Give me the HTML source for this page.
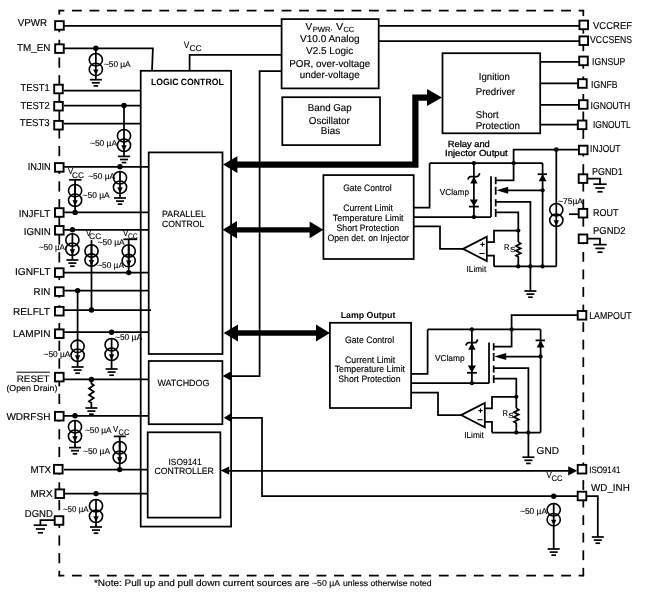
<!DOCTYPE html>
<html><head><meta charset="utf-8"><style>
html,body{margin:0;padding:0;background:#fff;}
svg{display:block;will-change:transform;}
text{font-family:"Liberation Sans",sans-serif;fill:#000;stroke:#000;stroke-width:0.15px;text-rendering:geometricPrecision;}
</style></head><body>
<svg width="650" height="599" viewBox="0 0 650 599">
<g fill="none" stroke="#000" stroke-width="1.75" stroke-linecap="butt">
<line x1="59.3" y1="10.6" x2="64.33" y2="10.6" stroke-width="1.75"/>
<line x1="72" y1="10.6" x2="81.8" y2="10.6" stroke-width="1.75"/>
<line x1="89.47" y1="10.6" x2="99.27" y2="10.6" stroke-width="1.75"/>
<line x1="106.94" y1="10.6" x2="116.74" y2="10.6" stroke-width="1.75"/>
<line x1="124.41" y1="10.6" x2="134.21" y2="10.6" stroke-width="1.75"/>
<line x1="141.88" y1="10.6" x2="151.68" y2="10.6" stroke-width="1.75"/>
<line x1="159.35" y1="10.6" x2="169.15" y2="10.6" stroke-width="1.75"/>
<line x1="176.82" y1="10.6" x2="186.62" y2="10.6" stroke-width="1.75"/>
<line x1="194.29" y1="10.6" x2="204.09" y2="10.6" stroke-width="1.75"/>
<line x1="211.76" y1="10.6" x2="221.56" y2="10.6" stroke-width="1.75"/>
<line x1="229.23" y1="10.6" x2="239.03" y2="10.6" stroke-width="1.75"/>
<line x1="246.7" y1="10.6" x2="256.5" y2="10.6" stroke-width="1.75"/>
<line x1="264.17" y1="10.6" x2="273.97" y2="10.6" stroke-width="1.75"/>
<line x1="281.64" y1="10.6" x2="291.44" y2="10.6" stroke-width="1.75"/>
<line x1="299.11" y1="10.6" x2="308.91" y2="10.6" stroke-width="1.75"/>
<line x1="316.58" y1="10.6" x2="326.38" y2="10.6" stroke-width="1.75"/>
<line x1="334.05" y1="10.6" x2="343.85" y2="10.6" stroke-width="1.75"/>
<line x1="351.52" y1="10.6" x2="361.32" y2="10.6" stroke-width="1.75"/>
<line x1="368.99" y1="10.6" x2="378.79" y2="10.6" stroke-width="1.75"/>
<line x1="386.46" y1="10.6" x2="396.26" y2="10.6" stroke-width="1.75"/>
<line x1="403.93" y1="10.6" x2="413.73" y2="10.6" stroke-width="1.75"/>
<line x1="421.4" y1="10.6" x2="431.2" y2="10.6" stroke-width="1.75"/>
<line x1="438.87" y1="10.6" x2="448.67" y2="10.6" stroke-width="1.75"/>
<line x1="456.34" y1="10.6" x2="466.14" y2="10.6" stroke-width="1.75"/>
<line x1="473.81" y1="10.6" x2="483.61" y2="10.6" stroke-width="1.75"/>
<line x1="491.28" y1="10.6" x2="501.08" y2="10.6" stroke-width="1.75"/>
<line x1="508.75" y1="10.6" x2="518.55" y2="10.6" stroke-width="1.75"/>
<line x1="526.22" y1="10.6" x2="536.02" y2="10.6" stroke-width="1.75"/>
<line x1="543.69" y1="10.6" x2="553.49" y2="10.6" stroke-width="1.75"/>
<line x1="561.16" y1="10.6" x2="570.96" y2="10.6" stroke-width="1.75"/>
<line x1="578.63" y1="10.6" x2="583.3" y2="10.6" stroke-width="1.75"/>
<line x1="59.3" y1="575.6" x2="64.33" y2="575.6" stroke-width="1.75"/>
<line x1="72" y1="575.6" x2="81.8" y2="575.6" stroke-width="1.75"/>
<line x1="89.47" y1="575.6" x2="99.27" y2="575.6" stroke-width="1.75"/>
<line x1="106.94" y1="575.6" x2="116.74" y2="575.6" stroke-width="1.75"/>
<line x1="124.41" y1="575.6" x2="134.21" y2="575.6" stroke-width="1.75"/>
<line x1="141.88" y1="575.6" x2="151.68" y2="575.6" stroke-width="1.75"/>
<line x1="159.35" y1="575.6" x2="169.15" y2="575.6" stroke-width="1.75"/>
<line x1="176.82" y1="575.6" x2="186.62" y2="575.6" stroke-width="1.75"/>
<line x1="194.29" y1="575.6" x2="204.09" y2="575.6" stroke-width="1.75"/>
<line x1="211.76" y1="575.6" x2="221.56" y2="575.6" stroke-width="1.75"/>
<line x1="229.23" y1="575.6" x2="239.03" y2="575.6" stroke-width="1.75"/>
<line x1="246.7" y1="575.6" x2="256.5" y2="575.6" stroke-width="1.75"/>
<line x1="264.17" y1="575.6" x2="273.97" y2="575.6" stroke-width="1.75"/>
<line x1="281.64" y1="575.6" x2="291.44" y2="575.6" stroke-width="1.75"/>
<line x1="299.11" y1="575.6" x2="308.91" y2="575.6" stroke-width="1.75"/>
<line x1="316.58" y1="575.6" x2="326.38" y2="575.6" stroke-width="1.75"/>
<line x1="334.05" y1="575.6" x2="343.85" y2="575.6" stroke-width="1.75"/>
<line x1="351.52" y1="575.6" x2="361.32" y2="575.6" stroke-width="1.75"/>
<line x1="368.99" y1="575.6" x2="378.79" y2="575.6" stroke-width="1.75"/>
<line x1="386.46" y1="575.6" x2="396.26" y2="575.6" stroke-width="1.75"/>
<line x1="403.93" y1="575.6" x2="413.73" y2="575.6" stroke-width="1.75"/>
<line x1="421.4" y1="575.6" x2="431.2" y2="575.6" stroke-width="1.75"/>
<line x1="438.87" y1="575.6" x2="448.67" y2="575.6" stroke-width="1.75"/>
<line x1="456.34" y1="575.6" x2="466.14" y2="575.6" stroke-width="1.75"/>
<line x1="473.81" y1="575.6" x2="483.61" y2="575.6" stroke-width="1.75"/>
<line x1="491.28" y1="575.6" x2="501.08" y2="575.6" stroke-width="1.75"/>
<line x1="508.75" y1="575.6" x2="518.55" y2="575.6" stroke-width="1.75"/>
<line x1="526.22" y1="575.6" x2="536.02" y2="575.6" stroke-width="1.75"/>
<line x1="543.69" y1="575.6" x2="553.49" y2="575.6" stroke-width="1.75"/>
<line x1="561.16" y1="575.6" x2="570.96" y2="575.6" stroke-width="1.75"/>
<line x1="578.63" y1="575.6" x2="583.3" y2="575.6" stroke-width="1.75"/>
<line x1="59.3" y1="10.6" x2="59.3" y2="14.6" stroke-width="1.75"/>
<line x1="59.3" y1="22.1" x2="59.3" y2="32.3" stroke-width="1.75"/>
<line x1="59.3" y1="39.8" x2="59.3" y2="50" stroke-width="1.75"/>
<line x1="59.3" y1="57.5" x2="59.3" y2="67.7" stroke-width="1.75"/>
<line x1="59.3" y1="75.2" x2="59.3" y2="85.4" stroke-width="1.75"/>
<line x1="59.3" y1="92.9" x2="59.3" y2="103.1" stroke-width="1.75"/>
<line x1="59.3" y1="110.6" x2="59.3" y2="120.8" stroke-width="1.75"/>
<line x1="59.3" y1="128.3" x2="59.3" y2="138.5" stroke-width="1.75"/>
<line x1="59.3" y1="146" x2="59.3" y2="156.2" stroke-width="1.75"/>
<line x1="59.3" y1="163.7" x2="59.3" y2="173.9" stroke-width="1.75"/>
<line x1="59.3" y1="181.4" x2="59.3" y2="191.6" stroke-width="1.75"/>
<line x1="59.3" y1="199.1" x2="59.3" y2="209.3" stroke-width="1.75"/>
<line x1="59.3" y1="216.8" x2="59.3" y2="227" stroke-width="1.75"/>
<line x1="59.3" y1="234.5" x2="59.3" y2="244.7" stroke-width="1.75"/>
<line x1="59.3" y1="252.2" x2="59.3" y2="262.4" stroke-width="1.75"/>
<line x1="59.3" y1="269.9" x2="59.3" y2="280.1" stroke-width="1.75"/>
<line x1="59.3" y1="287.6" x2="59.3" y2="297.8" stroke-width="1.75"/>
<line x1="59.3" y1="305.3" x2="59.3" y2="315.5" stroke-width="1.75"/>
<line x1="59.3" y1="323" x2="59.3" y2="333.2" stroke-width="1.75"/>
<line x1="59.3" y1="340.7" x2="59.3" y2="350.9" stroke-width="1.75"/>
<line x1="59.3" y1="358.4" x2="59.3" y2="368.6" stroke-width="1.75"/>
<line x1="59.3" y1="376.1" x2="59.3" y2="386.3" stroke-width="1.75"/>
<line x1="59.3" y1="393.8" x2="59.3" y2="404" stroke-width="1.75"/>
<line x1="59.3" y1="411.5" x2="59.3" y2="421.7" stroke-width="1.75"/>
<line x1="59.3" y1="429.2" x2="59.3" y2="439.4" stroke-width="1.75"/>
<line x1="59.3" y1="446.9" x2="59.3" y2="457.1" stroke-width="1.75"/>
<line x1="59.3" y1="464.6" x2="59.3" y2="474.8" stroke-width="1.75"/>
<line x1="59.3" y1="482.3" x2="59.3" y2="492.5" stroke-width="1.75"/>
<line x1="59.3" y1="500" x2="59.3" y2="510.2" stroke-width="1.75"/>
<line x1="59.3" y1="517.7" x2="59.3" y2="527.9" stroke-width="1.75"/>
<line x1="59.3" y1="535.4" x2="59.3" y2="545.6" stroke-width="1.75"/>
<line x1="59.3" y1="553.1" x2="59.3" y2="563.3" stroke-width="1.75"/>
<line x1="59.3" y1="570.8" x2="59.3" y2="575.6" stroke-width="1.75"/>
<line x1="583.3" y1="10.6" x2="583.3" y2="16.05" stroke-width="1.75"/>
<line x1="583.3" y1="23.8" x2="583.3" y2="33.6" stroke-width="1.75"/>
<line x1="583.3" y1="41.35" x2="583.3" y2="51.15" stroke-width="1.75"/>
<line x1="583.3" y1="58.9" x2="583.3" y2="68.7" stroke-width="1.75"/>
<line x1="583.3" y1="76.45" x2="583.3" y2="86.25" stroke-width="1.75"/>
<line x1="583.3" y1="94" x2="583.3" y2="103.8" stroke-width="1.75"/>
<line x1="583.3" y1="111.55" x2="583.3" y2="121.35" stroke-width="1.75"/>
<line x1="583.3" y1="129.1" x2="583.3" y2="138.9" stroke-width="1.75"/>
<line x1="583.3" y1="146.65" x2="583.3" y2="156.45" stroke-width="1.75"/>
<line x1="583.3" y1="164.2" x2="583.3" y2="174" stroke-width="1.75"/>
<line x1="583.3" y1="181.75" x2="583.3" y2="191.55" stroke-width="1.75"/>
<line x1="583.3" y1="199.3" x2="583.3" y2="209.1" stroke-width="1.75"/>
<line x1="583.3" y1="216.85" x2="583.3" y2="226.65" stroke-width="1.75"/>
<line x1="583.3" y1="234.4" x2="583.3" y2="244.2" stroke-width="1.75"/>
<line x1="583.3" y1="251.95" x2="583.3" y2="261.75" stroke-width="1.75"/>
<line x1="583.3" y1="269.5" x2="583.3" y2="279.3" stroke-width="1.75"/>
<line x1="583.3" y1="287.05" x2="583.3" y2="296.85" stroke-width="1.75"/>
<line x1="583.3" y1="304.6" x2="583.3" y2="314.4" stroke-width="1.75"/>
<line x1="583.3" y1="322.15" x2="583.3" y2="331.95" stroke-width="1.75"/>
<line x1="583.3" y1="339.7" x2="583.3" y2="349.5" stroke-width="1.75"/>
<line x1="583.3" y1="357.25" x2="583.3" y2="367.05" stroke-width="1.75"/>
<line x1="583.3" y1="374.8" x2="583.3" y2="384.6" stroke-width="1.75"/>
<line x1="583.3" y1="392.35" x2="583.3" y2="402.15" stroke-width="1.75"/>
<line x1="583.3" y1="409.9" x2="583.3" y2="419.7" stroke-width="1.75"/>
<line x1="583.3" y1="427.45" x2="583.3" y2="437.25" stroke-width="1.75"/>
<line x1="583.3" y1="445" x2="583.3" y2="454.8" stroke-width="1.75"/>
<line x1="583.3" y1="462.55" x2="583.3" y2="472.35" stroke-width="1.75"/>
<line x1="583.3" y1="480.1" x2="583.3" y2="489.9" stroke-width="1.75"/>
<line x1="583.3" y1="497.65" x2="583.3" y2="507.45" stroke-width="1.75"/>
<line x1="583.3" y1="515.2" x2="583.3" y2="525" stroke-width="1.75"/>
<line x1="583.3" y1="532.75" x2="583.3" y2="542.55" stroke-width="1.75"/>
<line x1="583.3" y1="550.3" x2="583.3" y2="560.1" stroke-width="1.75"/>
<line x1="583.3" y1="567.85" x2="583.3" y2="575.6" stroke-width="1.75"/>
<rect x="58.42" y="9.72" width="1.75" height="1.75" fill="#000" stroke="none"/>
<rect x="582.42" y="9.72" width="1.75" height="1.75" fill="#000" stroke="none"/>
<rect x="58.42" y="574.73" width="1.75" height="1.75" fill="#000" stroke="none"/>
<rect x="582.42" y="574.73" width="1.75" height="1.75" fill="#000" stroke="none"/>
<rect x="140.7" y="70.8" width="90.4" height="455.8"/>
<rect x="148.7" y="152.4" width="73.8" height="201.6"/>
<rect x="148.7" y="361" width="73.7" height="63.2"/>
<rect x="147.7" y="432.3" width="72.7" height="85.3"/>
<rect x="281.6" y="19.1" width="97.1" height="69.3"/>
<rect x="282.3" y="97.2" width="97.7" height="47.9"/>
<rect x="442.5" y="53.2" width="97.7" height="80.1"/>
<rect x="323.4" y="175.1" width="90.3" height="83.9"/>
<rect x="329.9" y="322.8" width="81.2" height="85.2"/>
<line x1="64" y1="25.8" x2="281.6" y2="25.8"/>
<line x1="378.7" y1="25.8" x2="579" y2="25.8"/>
<line x1="378.7" y1="41" x2="579" y2="41"/>
<polyline points="64,48.3 152.9,48.3 152,70.8"/>
<polyline points="189.6,70.8 189.6,54.9 281.6,54.9"/>
<polyline points="281.6,71.1 259.6,71.1 259.6,376.2 231,376.2"/>
<polygon points="222.5,376.1 231.6,371.1 231.6,381.1" fill="#000" stroke="none"/>
<line x1="540.2" y1="61.8" x2="579" y2="61.8"/>
<line x1="540.2" y1="83.4" x2="579" y2="83.4"/>
<line x1="540.2" y1="104.8" x2="579" y2="104.8"/>
<line x1="540.2" y1="124.6" x2="579" y2="124.6"/>
<line x1="64" y1="90.5" x2="140.7" y2="90.5"/>
<line x1="64" y1="105.5" x2="140.7" y2="105.5"/>
<line x1="64" y1="123.5" x2="140.7" y2="123.5"/>
<line x1="64" y1="166.8" x2="148.7" y2="166.8"/>
<line x1="64" y1="212.4" x2="148.7" y2="212.4"/>
<line x1="64" y1="229.8" x2="148.7" y2="229.8"/>
<line x1="64" y1="272.6" x2="148.7" y2="272.6"/>
<line x1="64" y1="290.6" x2="148.7" y2="290.6"/>
<line x1="64" y1="310" x2="151" y2="310"/>
<line x1="64" y1="332.2" x2="148.7" y2="332.2"/>
<line x1="64" y1="379.4" x2="148.7" y2="379.4"/>
<line x1="64" y1="415.8" x2="148.7" y2="415.8"/>
<line x1="64" y1="469.6" x2="147.7" y2="469.6"/>
<line x1="64" y1="493.6" x2="147.7" y2="493.6"/>
<circle cx="95.85" cy="48.3" r="2.7" fill="#000" stroke="none"/>
<line x1="95.85" y1="48.3" x2="95.85" y2="53"/>
<ellipse cx="95.85" cy="59.75" rx="6.6" ry="6.2" stroke-width="1.6"/>
<ellipse cx="95.85" cy="69.4" rx="6.6" ry="6.2" stroke-width="1.6"/>
<line x1="95.85" y1="53.55" x2="95.85" y2="75.6"/>
<polygon points="93.15,69.4 98.55,69.4 95.85,75.1" fill="#000" stroke="none"/>
<line x1="95.85" y1="75" x2="95.85" y2="79.7"/>
<line x1="89.85" y1="79.7" x2="101.85" y2="79.7" stroke-width="1.7"/>
<line x1="91.85" y1="82.8" x2="99.85" y2="82.8" stroke-width="1.7"/>
<line x1="93.55" y1="85.9" x2="98.15" y2="85.9" stroke-width="1.7"/>
<circle cx="124" cy="105.5" r="2.7" fill="#000" stroke="none"/>
<line x1="124" y1="105.5" x2="124" y2="130"/>
<ellipse cx="124" cy="135.75" rx="6.6" ry="6.2" stroke-width="1.6"/>
<ellipse cx="124" cy="145.25" rx="6.6" ry="6.2" stroke-width="1.6"/>
<line x1="124" y1="129.55" x2="124" y2="151.45"/>
<polygon points="121.3,145.25 126.7,145.25 124,150.95" fill="#000" stroke="none"/>
<line x1="124" y1="151" x2="124" y2="156.4"/>
<line x1="118" y1="156.4" x2="130" y2="156.4" stroke-width="1.7"/>
<line x1="120" y1="159.5" x2="128" y2="159.5" stroke-width="1.7"/>
<line x1="121.7" y1="162.6" x2="126.3" y2="162.6" stroke-width="1.7"/>
<circle cx="120" cy="166.8" r="2.7" fill="#000" stroke="none"/>
<ellipse cx="120" cy="177.75" rx="6.6" ry="6.2" stroke-width="1.6"/>
<ellipse cx="120" cy="187.25" rx="6.6" ry="6.2" stroke-width="1.6"/>
<line x1="120" y1="171.55" x2="120" y2="193.45"/>
<polygon points="117.3,187.25 122.7,187.25 120,192.95" fill="#000" stroke="none"/>
<line x1="120" y1="193" x2="120" y2="198"/>
<line x1="114" y1="198" x2="126" y2="198" stroke-width="1.7"/>
<line x1="116" y1="201.1" x2="124" y2="201.1" stroke-width="1.7"/>
<line x1="117.7" y1="204.2" x2="122.3" y2="204.2" stroke-width="1.7"/>
<line x1="69.1" y1="179.8" x2="81.5" y2="179.8"/>
<line x1="75.1" y1="179.8" x2="75.1" y2="212.4"/>
<ellipse cx="75.1" cy="190.65" rx="6.6" ry="6.2" stroke-width="1.6"/>
<ellipse cx="75.1" cy="200.25" rx="6.6" ry="6.2" stroke-width="1.6"/>
<line x1="75.1" y1="184.45" x2="75.1" y2="206.45"/>
<polygon points="72.4,200.25 77.8,200.25 75.1,205.95" fill="#000" stroke="none"/>
<circle cx="75.1" cy="212.4" r="2.7" fill="#000" stroke="none"/>
<circle cx="72.5" cy="229.8" r="2.7" fill="#000" stroke="none"/>
<ellipse cx="72.4" cy="240" rx="6.6" ry="6.2" stroke-width="1.6"/>
<ellipse cx="72.4" cy="249.2" rx="6.6" ry="6.2" stroke-width="1.6"/>
<line x1="72.4" y1="233.8" x2="72.4" y2="255.4"/>
<polygon points="69.7,249.2 75.1,249.2 72.4,254.9" fill="#000" stroke="none"/>
<line x1="72.4" y1="255" x2="72.4" y2="260"/>
<line x1="66.4" y1="260" x2="78.4" y2="260" stroke-width="1.7"/>
<line x1="68.4" y1="263.1" x2="76.4" y2="263.1" stroke-width="1.7"/>
<line x1="70.1" y1="266.2" x2="74.7" y2="266.2" stroke-width="1.7"/>
<line x1="91.5" y1="240" x2="91.5" y2="310"/>
<ellipse cx="91.5" cy="250.95" rx="6.6" ry="6.2" stroke-width="1.6"/>
<ellipse cx="91.5" cy="260.05" rx="6.6" ry="6.2" stroke-width="1.6"/>
<line x1="91.5" y1="244.75" x2="91.5" y2="266.25"/>
<polygon points="88.8,260.05 94.2,260.05 91.5,265.75" fill="#000" stroke="none"/>
<circle cx="91.5" cy="310" r="2.7" fill="#000" stroke="none"/>
<line x1="123.5" y1="239.3" x2="137.2" y2="239.3"/>
<line x1="128.7" y1="239.3" x2="128.7" y2="272.6"/>
<ellipse cx="128.7" cy="250.95" rx="6.6" ry="6.2" stroke-width="1.6"/>
<ellipse cx="128.7" cy="260.6" rx="6.6" ry="6.2" stroke-width="1.6"/>
<line x1="128.7" y1="244.75" x2="128.7" y2="266.8"/>
<polygon points="126,260.6 131.4,260.6 128.7,266.3" fill="#000" stroke="none"/>
<circle cx="128.7" cy="272.6" r="2.7" fill="#000" stroke="none"/>
<circle cx="77.6" cy="290.6" r="2.7" fill="#000" stroke="none"/>
<line x1="77.6" y1="290.6" x2="77.6" y2="340"/>
<ellipse cx="77.6" cy="346.35" rx="6.6" ry="6.2" stroke-width="1.6"/>
<ellipse cx="77.6" cy="355.25" rx="6.6" ry="6.2" stroke-width="1.6"/>
<line x1="77.6" y1="340.15" x2="77.6" y2="361.45"/>
<polygon points="74.9,355.25 80.3,355.25 77.6,360.95" fill="#000" stroke="none"/>
<line x1="77.6" y1="361" x2="77.6" y2="367"/>
<line x1="71.6" y1="367" x2="83.6" y2="367" stroke-width="1.7"/>
<line x1="73.6" y1="370.1" x2="81.6" y2="370.1" stroke-width="1.7"/>
<line x1="75.3" y1="373.2" x2="79.9" y2="373.2" stroke-width="1.7"/>
<circle cx="111.6" cy="332.2" r="2.7" fill="#000" stroke="none"/>
<ellipse cx="111.6" cy="344.75" rx="6.6" ry="6.2" stroke-width="1.6"/>
<ellipse cx="111.6" cy="354.25" rx="6.6" ry="6.2" stroke-width="1.6"/>
<line x1="111.6" y1="338.55" x2="111.6" y2="360.45"/>
<polygon points="108.9,354.25 114.3,354.25 111.6,359.95" fill="#000" stroke="none"/>
<line x1="111.6" y1="360" x2="111.6" y2="369"/>
<line x1="105.6" y1="369" x2="117.6" y2="369" stroke-width="1.7"/>
<line x1="107.6" y1="372.1" x2="115.6" y2="372.1" stroke-width="1.7"/>
<line x1="109.3" y1="375.2" x2="113.9" y2="375.2" stroke-width="1.7"/>
<circle cx="91.4" cy="379.4" r="2.7" fill="#000" stroke="none"/>
<polyline points="91.4,379.4 91.4,383.5 93.8,385.3 89,388.5 93.8,391.7 89,394.9 93.8,398.1 89,401.3 91.4,403 91.4,408"/>
<line x1="85.4" y1="408" x2="97.4" y2="408" stroke-width="1.7"/>
<line x1="87.4" y1="411.1" x2="95.4" y2="411.1" stroke-width="1.7"/>
<line x1="89.1" y1="414.2" x2="93.7" y2="414.2" stroke-width="1.7"/>
<circle cx="75" cy="415.8" r="2.7" fill="#000" stroke="none"/>
<ellipse cx="75" cy="426.75" rx="6.6" ry="6.2" stroke-width="1.6"/>
<ellipse cx="75" cy="436.25" rx="6.6" ry="6.2" stroke-width="1.6"/>
<line x1="75" y1="420.55" x2="75" y2="442.45"/>
<polygon points="72.3,436.25 77.7,436.25 75,441.95" fill="#000" stroke="none"/>
<line x1="75" y1="442" x2="75" y2="447.6"/>
<line x1="69" y1="447.6" x2="81" y2="447.6" stroke-width="1.7"/>
<line x1="71" y1="450.7" x2="79" y2="450.7" stroke-width="1.7"/>
<line x1="72.7" y1="453.8" x2="77.3" y2="453.8" stroke-width="1.7"/>
<line x1="113.8" y1="436.4" x2="125.8" y2="436.4"/>
<line x1="119.7" y1="436.4" x2="119.7" y2="469.6"/>
<ellipse cx="119.7" cy="447.75" rx="6.6" ry="6.2" stroke-width="1.6"/>
<ellipse cx="119.7" cy="457.25" rx="6.6" ry="6.2" stroke-width="1.6"/>
<line x1="119.7" y1="441.55" x2="119.7" y2="463.45"/>
<polygon points="117,457.25 122.4,457.25 119.7,462.95" fill="#000" stroke="none"/>
<circle cx="119.7" cy="469.6" r="2.7" fill="#000" stroke="none"/>
<circle cx="96" cy="493.6" r="2.7" fill="#000" stroke="none"/>
<ellipse cx="96" cy="505.75" rx="6.6" ry="6.2" stroke-width="1.6"/>
<ellipse cx="96" cy="516.25" rx="6.6" ry="6.2" stroke-width="1.6"/>
<line x1="96" y1="499.55" x2="96" y2="522.45"/>
<polygon points="93.3,516.25 98.7,516.25 96,521.95" fill="#000" stroke="none"/>
<line x1="96" y1="521.6" x2="96" y2="527"/>
<line x1="90" y1="527" x2="102" y2="527" stroke-width="1.7"/>
<line x1="92" y1="530.1" x2="100" y2="530.1" stroke-width="1.7"/>
<line x1="93.7" y1="533.2" x2="98.3" y2="533.2" stroke-width="1.7"/>
<polyline points="55,520.2 40.4,520.2 40.4,525.2"/>
<line x1="33.75" y1="525.2" x2="47.05" y2="525.2" stroke-width="1.7"/>
<line x1="35.8" y1="529" x2="45" y2="529" stroke-width="1.7"/>
<line x1="37.8" y1="532.8" x2="43" y2="532.8" stroke-width="1.7"/>
<polyline points="236,164.6 415.4,164.6 415.4,97.6 428,97.6" stroke-width="6.2" stroke-linejoin="miter"/>
<polygon points="223,164.6 237.4,156.3 237.4,173" fill="#000" stroke="none"/>
<polygon points="442,97.6 427,89 427,106" fill="#000" stroke="none"/>
<line x1="236" y1="229.8" x2="311" y2="229.8" stroke-width="5.2"/>
<polygon points="222.6,229.8 237,221 237,238.4" fill="#000" stroke="none"/>
<polygon points="323.4,229.8 309.6,221.4 309.6,238.2" fill="#000" stroke="none"/>
<line x1="237" y1="333" x2="317" y2="333" stroke-width="5.4"/>
<polygon points="223.6,333 238,324.4 238,341.6" fill="#000" stroke="none"/>
<polygon points="329.9,333 316,324.4 316,341.6" fill="#000" stroke="none"/>
<polyline points="231,417.8 262,417.8 262,496.2 578,496.2"/>
<polygon points="223.8,417.7 231.6,413.1 231.6,422.2" fill="#000" stroke="none"/>
<line x1="229" y1="470.8" x2="568.5" y2="470.8"/>
<polygon points="220.6,470.6 229.2,466.4 229.2,474.8" fill="#000" stroke="none"/>
<polygon points="577.2,470.8 568.2,466.2 568.2,475.4" fill="#000" stroke="none"/>
<circle cx="553.7" cy="496.2" r="2.7" fill="#000" stroke="none"/>
<ellipse cx="553.7" cy="509.75" rx="6.6" ry="6.2" stroke-width="1.6"/>
<ellipse cx="553.7" cy="519.65" rx="6.6" ry="6.2" stroke-width="1.6"/>
<line x1="553.7" y1="503.55" x2="553.7" y2="525.85"/>
<polygon points="551,519.65 556.4,519.65 553.7,525.35" fill="#000" stroke="none"/>
<line x1="553.7" y1="525" x2="553.7" y2="549"/>
<line x1="547.7" y1="549" x2="559.7" y2="549" stroke-width="1.7"/>
<line x1="549.7" y1="552.1" x2="557.7" y2="552.1" stroke-width="1.7"/>
<line x1="551.4" y1="555.2" x2="556" y2="555.2" stroke-width="1.7"/>
<polyline points="587,496.2 597.8,496.2 597.8,537"/>
<line x1="591.8" y1="537" x2="603.8" y2="537" stroke-width="1.7"/>
<line x1="593.8" y1="540.1" x2="601.8" y2="540.1" stroke-width="1.7"/>
<line x1="595.5" y1="543.2" x2="600.1" y2="543.2" stroke-width="1.7"/>
<line x1="429.6" y1="163.2" x2="542.6" y2="163.2"/>
<polyline points="429.6,163.2 429.6,207.6 413.7,207.6"/>
<line x1="473.9" y1="163.2" x2="473.9" y2="217"/>
<circle cx="473.9" cy="163.2" r="2.15" fill="#000" stroke="none"/>
<circle cx="473.9" cy="217" r="2.15" fill="#000" stroke="none"/>
<polygon points="473.9,176.4 470.2,183.5 477.6,183.5" fill="#000" stroke="none"/>
<path d="M467.9,179.4 Q468.8,176.5 470.6,176.5 L477,176.5 Q478.6,176.5 479.7,173.2"/>
<polygon points="473.9,206.3 469.8,199.4 478,199.4" fill="#000" stroke="none"/>
<line x1="469" y1="206.6" x2="478.9" y2="206.6"/>
<line x1="413.7" y1="217" x2="491" y2="217"/>
<line x1="491" y1="176.3" x2="491" y2="217"/>
<line x1="495.7" y1="177" x2="495.7" y2="184.2"/>
<line x1="495.7" y1="186.8" x2="495.7" y2="194.7"/>
<line x1="495.7" y1="199.2" x2="495.7" y2="206.4"/>
<line x1="495.7" y1="209" x2="495.7" y2="216.9"/>
<polyline points="495.7,180.3 513.6,180.3 513.6,163.2"/>
<circle cx="513.6" cy="163.2" r="2.15" fill="#000" stroke="none"/>
<line x1="506" y1="190.3" x2="542.6" y2="190.3"/>
<polygon points="496.4,190.3 508.2,186.8 508.2,193.8" fill="#000" stroke="none"/>
<circle cx="542.6" cy="190.3" r="2.15" fill="#000" stroke="none"/>
<polyline points="495.7,201.8 530.4,201.8 530.4,266.4"/>
<polyline points="495.7,212.3 518.3,212.3 518.3,242"/>
<polyline points="518.3,242 520.7,243.6 516,246 520.7,248.4 516,250.8 520.7,253.2 516,255.6 518.3,257 518.3,266.4"/>
<circle cx="518.3" cy="230.6" r="2.15" fill="#000" stroke="none"/>
<line x1="542.6" y1="163.2" x2="542.6" y2="266.4"/>
<line x1="537.6" y1="174.2" x2="547" y2="174.2"/>
<polygon points="542.6,174 538.7,181.3 546.5,181.3" fill="#000" stroke="none"/>
<line x1="494" y1="266.4" x2="556.3" y2="266.4"/>
<circle cx="518.3" cy="266.4" r="2.15" fill="#000" stroke="none"/>
<circle cx="530.4" cy="266.4" r="2.15" fill="#000" stroke="none"/>
<circle cx="542.6" cy="266.4" r="2.15" fill="#000" stroke="none"/>
<line x1="530.4" y1="266.4" x2="530.4" y2="291"/>
<line x1="524.4" y1="291" x2="536.4" y2="291" stroke-width="1.7"/>
<line x1="526.4" y1="294.1" x2="534.4" y2="294.1" stroke-width="1.7"/>
<line x1="528.1" y1="297.2" x2="532.7" y2="297.2" stroke-width="1.7"/>
<polygon points="463.1,248.9 486.8,236.8 486.8,261.1" fill="#fff"/>
<line x1="480.3" y1="244.4" x2="484.7" y2="244.4" stroke-width="1.1"/>
<line x1="482.5" y1="242.2" x2="482.5" y2="246.6" stroke-width="1.1"/>
<line x1="479.4" y1="253.5" x2="484.6" y2="253.5" stroke-width="1.1"/>
<polyline points="486.8,242.2 494,242.2 494,230.6 518.3,230.6"/>
<polyline points="486.8,255.7 494,255.7 494,266.4"/>
<polyline points="463.1,248.9 440,248.9 440,226.4 413.7,226.4"/>
<line x1="427.6" y1="329.4" x2="540.6" y2="329.4"/>
<polyline points="427.6,329.4 427.6,373.8 411.1,373.8"/>
<line x1="471.9" y1="329.4" x2="471.9" y2="383.2"/>
<circle cx="471.9" cy="329.4" r="2.15" fill="#000" stroke="none"/>
<circle cx="471.9" cy="383.2" r="2.15" fill="#000" stroke="none"/>
<polygon points="471.9,342.6 468.2,349.7 475.6,349.7" fill="#000" stroke="none"/>
<path d="M465.9,345.6 Q466.8,342.7 468.6,342.7 L475,342.7 Q476.6,342.7 477.7,339.4"/>
<polygon points="471.9,372.5 467.8,365.6 476,365.6" fill="#000" stroke="none"/>
<line x1="467" y1="372.8" x2="476.9" y2="372.8"/>
<line x1="411.1" y1="383.2" x2="489" y2="383.2"/>
<line x1="489" y1="342.5" x2="489" y2="383.2"/>
<line x1="493.7" y1="343.2" x2="493.7" y2="350.4"/>
<line x1="493.7" y1="353" x2="493.7" y2="360.9"/>
<line x1="493.7" y1="365.4" x2="493.7" y2="372.6"/>
<line x1="493.7" y1="375.2" x2="493.7" y2="383.1"/>
<polyline points="493.7,346.5 511.6,346.5 511.6,329.4"/>
<circle cx="511.6" cy="329.4" r="2.15" fill="#000" stroke="none"/>
<line x1="504" y1="356.5" x2="540.6" y2="356.5"/>
<polygon points="494.4,356.5 506.2,353 506.2,360" fill="#000" stroke="none"/>
<circle cx="540.6" cy="356.5" r="2.15" fill="#000" stroke="none"/>
<polyline points="493.7,368 528.4,368 528.4,432.6"/>
<polyline points="493.7,378.5 516.3,378.5 516.3,408.2"/>
<polyline points="516.3,408.2 518.7,409.8 514,412.2 518.7,414.6 514,417 518.7,419.4 514,421.8 516.3,423.2 516.3,432.6"/>
<circle cx="516.3" cy="396.8" r="2.15" fill="#000" stroke="none"/>
<line x1="540.6" y1="329.4" x2="540.6" y2="432.6"/>
<line x1="535.6" y1="340.4" x2="545" y2="340.4"/>
<polygon points="540.6,340.2 536.7,347.5 544.5,347.5" fill="#000" stroke="none"/>
<line x1="492" y1="432.6" x2="540.6" y2="432.6"/>
<circle cx="516.3" cy="432.6" r="2.15" fill="#000" stroke="none"/>
<circle cx="528.4" cy="432.6" r="2.15" fill="#000" stroke="none"/>
<line x1="528.4" y1="432.6" x2="528.4" y2="457.2"/>
<line x1="522.4" y1="457.2" x2="534.4" y2="457.2" stroke-width="1.7"/>
<line x1="524.4" y1="460.3" x2="532.4" y2="460.3" stroke-width="1.7"/>
<line x1="526.1" y1="463.4" x2="530.7" y2="463.4" stroke-width="1.7"/>
<polygon points="461.1,415.1 484.8,403 484.8,427.3" fill="#fff"/>
<line x1="478.3" y1="410.6" x2="482.7" y2="410.6" stroke-width="1.1"/>
<line x1="480.5" y1="408.4" x2="480.5" y2="412.8" stroke-width="1.1"/>
<line x1="477.4" y1="419.7" x2="482.6" y2="419.7" stroke-width="1.1"/>
<polyline points="484.8,408.4 492,408.4 492,396.8 516.3,396.8"/>
<polyline points="484.8,421.9 492,421.9 492,432.6"/>
<polyline points="461.1,415.1 438,415.1 438,392.6 411.1,392.6"/>
<polyline points="513.6,163.2 513.6,149.6 579,149.6"/>
<circle cx="556.3" cy="149.6" r="2.35" fill="#000" stroke="none"/>
<line x1="556.3" y1="149.6" x2="556.3" y2="204"/>
<ellipse cx="556.3" cy="209.75" rx="6.6" ry="6.2" stroke-width="1.6"/>
<ellipse cx="556.3" cy="220.25" rx="6.6" ry="6.2" stroke-width="1.6"/>
<line x1="556.3" y1="203.55" x2="556.3" y2="226.45"/>
<polygon points="553.6,220.25 559,220.25 556.3,225.95" fill="#000" stroke="none"/>
<line x1="556.3" y1="225" x2="556.3" y2="266.4"/>
<line x1="569" y1="214.2" x2="579" y2="214.2"/>
<polyline points="587.5,178.6 600,178.6 600,184.2"/>
<line x1="593.35" y1="184.2" x2="606.65" y2="184.2" stroke-width="1.7"/>
<line x1="595.4" y1="188" x2="604.6" y2="188" stroke-width="1.7"/>
<line x1="597.4" y1="191.8" x2="602.6" y2="191.8" stroke-width="1.7"/>
<polyline points="587.5,238.7 600,238.7 600,244.6"/>
<line x1="593.35" y1="244.6" x2="606.65" y2="244.6" stroke-width="1.7"/>
<line x1="595.4" y1="248.4" x2="604.6" y2="248.4" stroke-width="1.7"/>
<line x1="597.4" y1="252.2" x2="602.6" y2="252.2" stroke-width="1.7"/>
<polyline points="511.6,329.4 511.6,315 578,315"/>
<rect x="55.15" y="21.15" width="8.6" height="8.6" fill="#fff" stroke-width="1.9"/>
<rect x="55.15" y="44.3" width="8.6" height="8.6" fill="#fff" stroke-width="1.9"/>
<rect x="54.2" y="84.7" width="8.6" height="8.6" fill="#fff" stroke-width="1.9"/>
<rect x="54.2" y="101.9" width="8.6" height="8.6" fill="#fff" stroke-width="1.9"/>
<rect x="54.2" y="120.9" width="8.6" height="8.6" fill="#fff" stroke-width="1.9"/>
<rect x="55" y="163.1" width="8.6" height="8.6" fill="#fff" stroke-width="1.9"/>
<rect x="55" y="208.2" width="8.6" height="8.6" fill="#fff" stroke-width="1.9"/>
<rect x="55" y="226" width="8.6" height="8.6" fill="#fff" stroke-width="1.9"/>
<rect x="55" y="268.3" width="8.6" height="8.6" fill="#fff" stroke-width="1.9"/>
<rect x="55" y="287.3" width="8.6" height="8.6" fill="#fff" stroke-width="1.9"/>
<rect x="55" y="306.9" width="8.6" height="8.6" fill="#fff" stroke-width="1.9"/>
<rect x="55" y="329.4" width="8.6" height="8.6" fill="#fff" stroke-width="1.9"/>
<rect x="55" y="372.8" width="8.6" height="8.6" fill="#fff" stroke-width="1.9"/>
<rect x="55" y="411.9" width="8.6" height="8.6" fill="#fff" stroke-width="1.9"/>
<rect x="54" y="464.9" width="8.6" height="8.6" fill="#fff" stroke-width="1.9"/>
<rect x="55.5" y="489.4" width="8.6" height="8.6" fill="#fff" stroke-width="1.9"/>
<rect x="54.7" y="516.2" width="8.6" height="8.6" fill="#fff" stroke-width="1.9"/>
<rect x="579.45" y="20.6" width="8.6" height="8.6" fill="#fff" stroke-width="1.9"/>
<rect x="579.45" y="36.4" width="8.6" height="8.6" fill="#fff" stroke-width="1.9"/>
<rect x="579.2" y="56.6" width="8.6" height="8.6" fill="#fff" stroke-width="1.9"/>
<rect x="578.1" y="79.2" width="8.6" height="8.6" fill="#fff" stroke-width="1.9"/>
<rect x="578.95" y="100.2" width="8.6" height="8.6" fill="#fff" stroke-width="1.9"/>
<rect x="577.8" y="120.55" width="8.6" height="8.6" fill="#fff" stroke-width="1.9"/>
<rect x="578.95" y="145.7" width="8.6" height="8.6" fill="#fff" stroke-width="1.9"/>
<rect x="578.7" y="174.3" width="8.6" height="8.6" fill="#fff" stroke-width="1.9"/>
<rect x="578.7" y="208.9" width="8.6" height="8.6" fill="#fff" stroke-width="1.9"/>
<rect x="578.7" y="234.5" width="8.6" height="8.6" fill="#fff" stroke-width="1.9"/>
<rect x="577.7" y="311" width="8.6" height="8.6" fill="#fff" stroke-width="1.9"/>
<rect x="577.7" y="464.9" width="8.6" height="8.6" fill="#fff" stroke-width="1.9"/>
<rect x="577.7" y="491.7" width="8.6" height="8.6" fill="#fff" stroke-width="1.9"/>
</g>
<g>
<text x="17.7" y="26.3" font-size="10" textLength="29.4" lengthAdjust="spacingAndGlyphs">VPWR</text>
<text x="17" y="51.2" font-size="10" textLength="33.39" lengthAdjust="spacingAndGlyphs">TM_EN</text>
<text x="20.6" y="90.9" font-size="10" textLength="29.02" lengthAdjust="spacingAndGlyphs">TEST1</text>
<text x="20.4" y="108.7" font-size="10" textLength="29.22" lengthAdjust="spacingAndGlyphs">TEST2</text>
<text x="19.8" y="125.9" font-size="10" textLength="29.82" lengthAdjust="spacingAndGlyphs">TEST3</text>
<text x="27.7" y="170.3" font-size="10" textLength="23.1" lengthAdjust="spacingAndGlyphs">INJIN</text>
<text x="18.7" y="216.7" font-size="10" textLength="31.69" lengthAdjust="spacingAndGlyphs">INJFLT</text>
<text x="23.8" y="235.1" font-size="10" textLength="26.98" lengthAdjust="spacingAndGlyphs">IGNIN</text>
<text x="14.9" y="274.6" font-size="10" textLength="35.52" lengthAdjust="spacingAndGlyphs">IGNFLT</text>
<text x="33.6" y="294.8" font-size="10" textLength="16.82" lengthAdjust="spacingAndGlyphs">RIN</text>
<text x="13" y="314.6" font-size="10" textLength="36.89" lengthAdjust="spacingAndGlyphs">RELFLT</text>
<text x="13" y="336.6" font-size="10" textLength="37.38" lengthAdjust="spacingAndGlyphs">LAMPIN</text>
<text x="6.4" y="420" font-size="10" textLength="43.98" lengthAdjust="spacingAndGlyphs">WDRFSH</text>
<text x="30.5" y="472.7" font-size="10" textLength="20.61" lengthAdjust="spacingAndGlyphs">MTX</text>
<text x="30.5" y="496.8" font-size="10" textLength="22.02" lengthAdjust="spacingAndGlyphs">MRX</text>
<text x="24.8" y="517" font-size="10" textLength="27.99" lengthAdjust="spacingAndGlyphs">DGND</text>
<text x="593" y="29.2" font-size="10" textLength="39.01" lengthAdjust="spacingAndGlyphs">VCCREF</text>
<text x="590.1" y="43.1" font-size="10" textLength="41.9" lengthAdjust="spacingAndGlyphs">VCCSENS</text>
<text x="592" y="64.6" font-size="10" textLength="33.19" lengthAdjust="spacingAndGlyphs">IGNSUP</text>
<text x="591.1" y="87.8" font-size="10" textLength="26.41" lengthAdjust="spacingAndGlyphs">IGNFB</text>
<text x="590.6" y="109.2" font-size="10" textLength="39.71" lengthAdjust="spacingAndGlyphs">IGNOUTH</text>
<text x="593" y="127.9" font-size="10" textLength="37.6" lengthAdjust="spacingAndGlyphs">IGNOUTL</text>
<text x="590.1" y="152.4" font-size="10" textLength="30.21" lengthAdjust="spacingAndGlyphs">INJOUT</text>
<text x="592" y="175.1" font-size="10" textLength="30.8" lengthAdjust="spacingAndGlyphs">PGND1</text>
<text x="593" y="216.3" font-size="10" textLength="25.48" lengthAdjust="spacingAndGlyphs">ROUT</text>
<text x="593" y="233.7" font-size="10" textLength="32.6" lengthAdjust="spacingAndGlyphs">PGND2</text>
<text x="589.2" y="318.5" font-size="10" textLength="42.39" lengthAdjust="spacingAndGlyphs">LAMPOUT</text>
<text x="591" y="491" font-size="10" textLength="38.79" lengthAdjust="spacingAndGlyphs">WD_INH</text>
<text x="589.2" y="472.5" font-size="9.4" textLength="31.32" lengthAdjust="spacingAndGlyphs">ISO9141</text>
<text x="16.7" y="381.7" font-size="9.4" textLength="32.89" lengthAdjust="spacingAndGlyphs">RESET</text>
<line x1="16.3" y1="372.2" x2="49.9" y2="372.2" stroke="#000" stroke-width="1"/>
<text x="6.4" y="390.5" font-size="8.6" textLength="51" lengthAdjust="spacingAndGlyphs">(Open Drain)</text>
<text x="151" y="84.6" font-size="9.2" font-weight="bold" style="stroke-width:0" textLength="72.68" lengthAdjust="spacingAndGlyphs">LOGIC CONTROL</text>
<text x="300.1" y="42.1" font-size="10" textLength="59.5" lengthAdjust="spacingAndGlyphs">V10.0 Analog</text>
<text x="306.1" y="54.2" font-size="10" textLength="47.11" lengthAdjust="spacingAndGlyphs">V2.5 Logic</text>
<text x="289.2" y="67" font-size="10" textLength="81.01" lengthAdjust="spacingAndGlyphs">POR, over-voltage</text>
<text x="299.8" y="77.6" font-size="10" textLength="59.8" lengthAdjust="spacingAndGlyphs">under-voltage</text>
<text x="307.8" y="110.9" font-size="10" textLength="43.89" lengthAdjust="spacingAndGlyphs">Band Gap</text>
<text x="308.8" y="123.8" font-size="10" textLength="41.08" lengthAdjust="spacingAndGlyphs">Oscillator</text>
<text x="320.8" y="134.3" font-size="10" textLength="19.4" lengthAdjust="spacingAndGlyphs">Bias</text>
<text x="478.8" y="79.6" font-size="10" textLength="31" lengthAdjust="spacingAndGlyphs">Ignition</text>
<text x="475.8" y="95.2" font-size="10" textLength="39.22" lengthAdjust="spacingAndGlyphs">Predriver</text>
<text x="475.8" y="117.6" font-size="10" textLength="22.9" lengthAdjust="spacingAndGlyphs">Short</text>
<text x="475.8" y="128.7" font-size="10" textLength="44.18" lengthAdjust="spacingAndGlyphs">Protection</text>
<text x="162.1" y="217.1" font-size="9" textLength="43.7" lengthAdjust="spacingAndGlyphs">PARALLEL</text>
<text x="162.1" y="226.5" font-size="9" textLength="42.29" lengthAdjust="spacingAndGlyphs">CONTROL</text>
<text x="157.5" y="386.3" font-size="9" textLength="51.88" lengthAdjust="spacingAndGlyphs">WATCHDOG</text>
<text x="168.5" y="464.5" font-size="9" textLength="33.22" lengthAdjust="spacingAndGlyphs">ISO9141</text>
<text x="154.5" y="474.2" font-size="9" textLength="59.3" lengthAdjust="spacingAndGlyphs">CONTROLLER</text>
<text x="447.8" y="147.4" font-size="8.9" style="stroke-width:0.3px" textLength="41.98" lengthAdjust="spacingAndGlyphs">Relay and</text>
<text x="445" y="155.7" font-size="8.9" style="stroke-width:0.3px" textLength="62.59" lengthAdjust="spacingAndGlyphs">Injector Output</text>
<text x="340.7" y="317.6" font-size="8.8" font-weight="bold" style="stroke-width:0" textLength="54.71" lengthAdjust="spacingAndGlyphs">Lamp Output</text>
<text x="343.2" y="190.8" font-size="9.2" textLength="48.5" lengthAdjust="spacingAndGlyphs">Gate Control</text>
<text x="343.2" y="210.9" font-size="9.2" textLength="49.79" lengthAdjust="spacingAndGlyphs">Current Limit</text>
<text x="332.8" y="220.6" font-size="9.2" textLength="70.78" lengthAdjust="spacingAndGlyphs">Temperature Limit</text>
<text x="336.5" y="230.8" font-size="9.2" textLength="62.61" lengthAdjust="spacingAndGlyphs">Short Protection</text>
<text x="327.4" y="240.7" font-size="9.2" textLength="81.6" lengthAdjust="spacingAndGlyphs">Open det. on Injector</text>
<text x="345" y="342.5" font-size="9.2" textLength="49.1" lengthAdjust="spacingAndGlyphs">Gate Control</text>
<text x="345" y="362.5" font-size="9.2" textLength="50.19" lengthAdjust="spacingAndGlyphs">Current Limit</text>
<text x="334.7" y="372.4" font-size="9.2" textLength="70.38" lengthAdjust="spacingAndGlyphs">Temperature Limit</text>
<text x="338.3" y="382.1" font-size="9.2" textLength="62.21" lengthAdjust="spacingAndGlyphs">Short Protection</text>
<text x="439.7" y="194.8" font-size="8.6" textLength="29.31" lengthAdjust="spacingAndGlyphs">VClamp</text>
<text x="434.9" y="360.7" font-size="8.6" textLength="29.72" lengthAdjust="spacingAndGlyphs">VClamp</text>
<text x="466.6" y="271.8" font-size="8.6" textLength="19.59" lengthAdjust="spacingAndGlyphs">ILimit</text>
<text x="464.2" y="437.9" font-size="8.6" textLength="19.69" lengthAdjust="spacingAndGlyphs">ILimit</text>
<text x="504" y="249.6" font-size="8.4" textLength="5.42" lengthAdjust="spacingAndGlyphs">R</text>
<text x="510" y="252.1" font-size="7.3" textLength="5.32" lengthAdjust="spacingAndGlyphs">S</text>
<text x="502.4" y="415.5" font-size="8.4" textLength="5.42" lengthAdjust="spacingAndGlyphs">R</text>
<text x="508.3" y="418.2" font-size="7.3" textLength="5.42" lengthAdjust="spacingAndGlyphs">S</text>
<text x="536.6" y="454" font-size="10" textLength="22.42" lengthAdjust="spacingAndGlyphs">GND</text>
<text x="183.7" y="48.3" font-size="9.2" textLength="5.58" lengthAdjust="spacingAndGlyphs">V</text>
<text x="189.5" y="50.8" font-size="8.4" textLength="12.19" lengthAdjust="spacingAndGlyphs">CC</text>
<text x="67.9" y="174.2" font-size="8.6" textLength="5.22" lengthAdjust="spacingAndGlyphs">V</text>
<text x="72.1" y="177.5" font-size="8" textLength="11.79" lengthAdjust="spacingAndGlyphs">CC</text>
<text x="85.9" y="236.1" font-size="8.6" textLength="5.22" lengthAdjust="spacingAndGlyphs">V</text>
<text x="89.1" y="238.6" font-size="8" textLength="12.09" lengthAdjust="spacingAndGlyphs">CC</text>
<text x="123" y="236.1" font-size="8.6" textLength="5.22" lengthAdjust="spacingAndGlyphs">V</text>
<text x="127.9" y="238.6" font-size="8" textLength="9.7" lengthAdjust="spacingAndGlyphs">CC</text>
<text x="113" y="432.2" font-size="8.6" textLength="5.22" lengthAdjust="spacingAndGlyphs">V</text>
<text x="118.6" y="435" font-size="8" textLength="10.6" lengthAdjust="spacingAndGlyphs">CC</text>
<text x="546.4" y="478" font-size="8.6" textLength="5.22" lengthAdjust="spacingAndGlyphs">V</text>
<text x="551.5" y="481" font-size="8" textLength="10.9" lengthAdjust="spacingAndGlyphs">CC</text>
<text x="305.4" y="29.7" font-size="10" textLength="6.62" lengthAdjust="spacingAndGlyphs">V</text>
<text x="312.7" y="32" font-size="7.6" textLength="17.79" lengthAdjust="spacingAndGlyphs">PWR</text>
<text x="331" y="30.4" font-size="7.6" textLength="1.39" lengthAdjust="spacingAndGlyphs">,</text>
<text x="336" y="29.7" font-size="10" textLength="7.22" lengthAdjust="spacingAndGlyphs">V</text>
<text x="343.4" y="32" font-size="7.6" textLength="10.6" lengthAdjust="spacingAndGlyphs">CC</text>
<text x="103.9" y="66.6" font-size="8.4" textLength="26.78" lengthAdjust="spacingAndGlyphs">~50 µA</text>
<text x="90" y="145.6" font-size="8.4" textLength="26.98" lengthAdjust="spacingAndGlyphs">~50 µA</text>
<text x="88.2" y="178.9" font-size="8.4" textLength="26.98" lengthAdjust="spacingAndGlyphs">~50 µA</text>
<text x="82.5" y="197.8" font-size="8.4" textLength="27.18" lengthAdjust="spacingAndGlyphs">~50 µA</text>
<text x="39" y="249.8" font-size="8.4" textLength="25.88" lengthAdjust="spacingAndGlyphs">~50 µA</text>
<text x="97.7" y="245" font-size="8.4" textLength="26.98" lengthAdjust="spacingAndGlyphs">~50 µA</text>
<text x="97.2" y="268.4" font-size="8.4" textLength="26.78" lengthAdjust="spacingAndGlyphs">~50 µA</text>
<text x="43.6" y="357.2" font-size="8.4" textLength="26.78" lengthAdjust="spacingAndGlyphs">~50 µA</text>
<text x="115" y="340" font-size="8.4" textLength="26.98" lengthAdjust="spacingAndGlyphs">~50 µA</text>
<text x="85" y="433" font-size="8.4" textLength="26.48" lengthAdjust="spacingAndGlyphs">~50 µA</text>
<text x="83" y="454" font-size="8.4" textLength="26.98" lengthAdjust="spacingAndGlyphs">~50 µA</text>
<text x="63" y="511.6" font-size="8.4" textLength="25.48" lengthAdjust="spacingAndGlyphs">~50 µA</text>
<text x="520" y="514" font-size="8.4" textLength="26.98" lengthAdjust="spacingAndGlyphs">~50 µA</text>
<text x="558" y="204" font-size="8.4" textLength="24.95" lengthAdjust="spacingAndGlyphs">~75µA</text>
<text x="93.9" y="585.8" font-size="9.4" textLength="215.42" lengthAdjust="spacingAndGlyphs">*Note: Pull up and pull down current sources are</text>
<text x="312" y="585.8" font-size="8.4" textLength="27.98" lengthAdjust="spacingAndGlyphs">~50 µA</text>
<text x="343" y="585.8" font-size="8.4" textLength="88.69" lengthAdjust="spacingAndGlyphs">unless otherwise noted</text>
</g>
</svg>
</body></html>
